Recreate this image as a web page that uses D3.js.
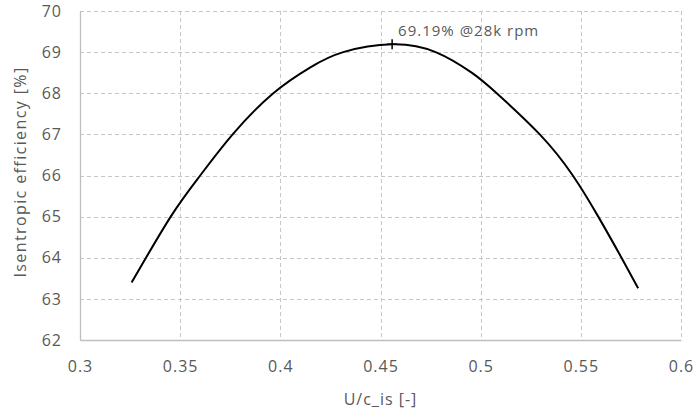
<!DOCTYPE html>
<html>
<head>
<meta charset="utf-8">
<script src="https://cdn.jsdelivr.net/npm/d3@7"></script>
<style>
  body { margin: 0; background: #fff; }
  svg text { font-family: "Open Sans", "Noto Sans", sans-serif; fill: #595959; letter-spacing: 1px; }
</style>
</head>
<body>
<div id="chart"></div>
<script>
// U/c_is values and matching isentropic efficiency [%]
const ucIs = [0.3258, 0.3453, 0.3600, 0.3762, 0.3965, 0.4150, 0.4314, 0.4558, 0.4775, 0.4955, 0.5080, 0.5295, 0.5460, 0.5587, 0.5703, 0.5786];
const efficiency = [63.40, 65.0, 66.0, 67.0, 68.0, 68.63, 69.0, 69.19, 69.0, 68.5, 68.0, 67.0, 66.0, 65.0, 64.0, 63.26];
const xTicks = [0.3, 0.35, 0.4, 0.45, 0.5, 0.55, 0.6];
const yTicks = [62, 63, 64, 65, 66, 67, 68, 69, 70];
const peakLabel = "69.19% @28k rpm";

const cfg = { width: 695, height: 414, left: 80, right: 14, top: 11, bottom: 74 };

const svg = d3.select("#chart").append("svg")
  .attr("width", cfg.width)
  .attr("height", cfg.height);

const w = cfg.width - cfg.left - cfg.right;
const h = cfg.height - cfg.top - cfg.bottom;

const g = svg.append("g").attr("transform", `translate(${cfg.left},${cfg.top})`);

const x = d3.scaleLinear().domain([0.3, 0.6]).range([0, w]);
const y = d3.scaleLinear().domain([62, 70]).range([h, 0]);

// grid
g.append("g").selectAll("line")
  .data(yTicks.filter(d => d !== 62))
  .join("line")
  .attr("x1", 0).attr("x2", w)
  .attr("y1", d => Math.round(y(d)) + 0.5).attr("y2", d => Math.round(y(d)) + 0.5)
  .attr("stroke", "#c6c6c6").attr("stroke-dasharray", "4,3");

g.append("g").selectAll("line")
  .data(xTicks.filter(d => d !== 0.3))
  .join("line")
  .attr("x1", d => Math.round(x(d)) + 0.5).attr("x2", d => Math.round(x(d)) + 0.5)
  .attr("y1", 0).attr("y2", h)
  .attr("stroke", "#c6c6c6").attr("stroke-dasharray", "4,3");

// axes
const xAxis = d3.axisBottom(x).tickValues(xTicks).tickSize(0).tickPadding(21)
  .tickFormat(d => String(+d.toFixed(2)));
const yAxis = d3.axisLeft(y).tickValues(yTicks).tickSize(0).tickPadding(18);

const gx = g.append("g").attr("transform", `translate(0,${h})`).call(xAxis);
const gy = g.append("g").call(yAxis);
[gx, gy].forEach(a => {
  a.select(".domain").attr("stroke", "#bfbfbf").attr("stroke-width", 1.3);
  a.selectAll("text").style("font-size", "16px").attr("fill", "#595959");
});

// axis titles
svg.append("text")
  .attr("x", cfg.left + w / 2).attr("y", 405)
  .attr("text-anchor", "middle")
  .style("font-size", "16px")
  .text("U/c_is [-]");

svg.append("text")
  .attr("transform", `translate(26,172) rotate(-90)`)
  .attr("text-anchor", "middle")
  .style("font-size", "16px")
  .style("letter-spacing", "1.4px")
  .text("Isentropic efficiency [%]");

// curve
const pts = ucIs.map((u, i) => [u, efficiency[i]]);
const line = d3.line()
  .x(d => x(d[0]))
  .y(d => y(d[1]))
  .curve(d3.curveNatural);

g.append("path")
  .datum(pts)
  .attr("fill", "none")
  .attr("stroke", "#000")
  .attr("stroke-width", 2)
  .attr("d", line);

// peak marker
const iMax = d3.maxIndex(efficiency);
const px = x(ucIs[iMax]), py = y(efficiency[iMax]);
g.append("path")
  .attr("d", `M${px - 5},${py}H${px + 5}M${px},${py - 5}V${py + 5}`)
  .attr("stroke", "#000").attr("stroke-width", 1.5);

g.append("text")
  .attr("x", px + 6).attr("y", py - 8)
  .style("font-size", "15px")
  .text(peakLabel);
</script>
</body>
</html>
